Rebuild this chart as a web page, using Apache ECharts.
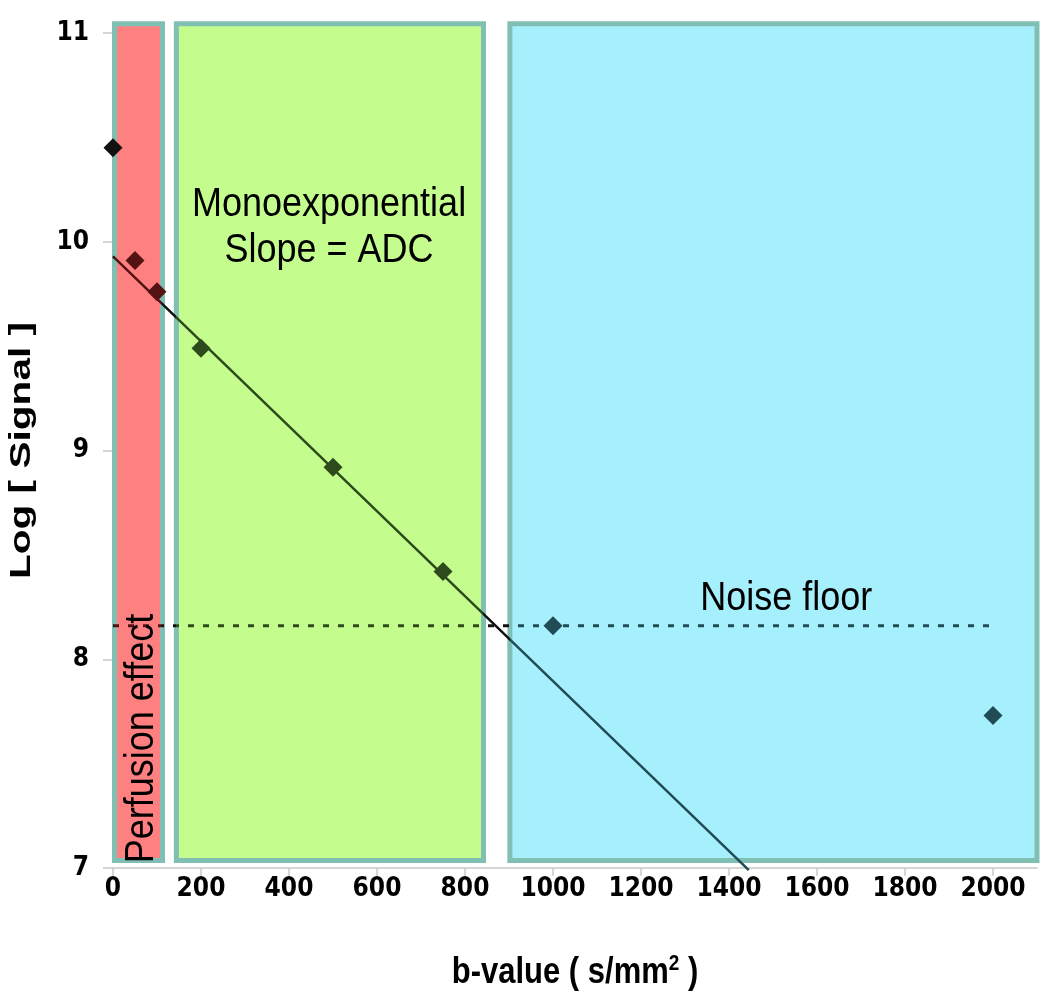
<!DOCTYPE html>
<html>
<head>
<meta charset="utf-8">
<script src="https://cdn.jsdelivr.net/npm/echarts@6/dist/echarts.min.js"></script>
<style>
html,body{margin:0;padding:0;background:#fff;}
#c{width:1050px;height:999px;}
</style>
</head>
<body>
<div id="c"></div>
<script>
// ---- data ----
var bValues = [0, 50, 100, 200, 500, 750, 1000, 2000];
var logSignal = [10.45, 9.91, 9.76, 9.49, 8.92, 8.42, 8.16, 7.73];
var fitLine = [[0, 9.93], [1445, 6.99]];
var noiseFloorLevel = 8.16;
var noiseFloorRange = [0, 2000];
var xTicks = [0, 200, 400, 600, 800, 1000, 1200, 1400, 1600, 1800, 2000];
var yTicks = [7, 8, 9, 10, 11];
var regionNames = ['Perfusion effect', 'Monoexponential', 'Noise floor'];
var regionStart = [3.4, 144, 902];
var regionEnd = [112.5, 842, 2107];
var regionTop = 11.045, regionBottom = 7.036;
var annotations = [
  {text: 'Monoexponential\nSlope = ADC', x: 491, y: 10.07, rotate: 0},
  {text: 'Noise floor', x: 1530, y: 8.29, rotate: 0},
  {text: 'Perfusion effect', x: 64, y: 7.62, rotate: Math.PI / 2}
];
var xAxisTitle = 'b-value ( s/mm{sup|2} )';
var yAxisTitle = 'Log [ Signal ]';

// ---- styles ----
var fills = ['#ff8080', '#c4fd8d', '#a6effc'];
var darks = ['#551212', '#2c4a1b', '#214c56'];
var outsideDark = '#111111';
var border = '#80bfb3';
var font = '"Liberation Sans", Arial, sans-serif';
var narrow = '"Liberation Sans Narrow", "DejaVu Sans Condensed", "Liberation Sans", Arial, sans-serif';

var pieces = [];
pieces.push({lt: regionStart[0], color: outsideDark});
for (var i = 0; i < regionStart.length; i++) {
  pieces.push({gte: regionStart[i], lt: regionEnd[i], color: darks[i]});
  if (i < regionStart.length - 1) pieces.push({gte: regionEnd[i], lt: regionStart[i + 1], color: outsideDark});
}
pieces.push({gte: regionEnd[regionEnd.length - 1], color: outsideDark});

var areas = regionNames.map(function (n, i) {
  return [
    {name: n, xAxis: regionStart[i], yAxis: regionBottom, itemStyle: {color: fills[i], borderColor: border, borderWidth: 5, opacity: 1}},
    {xAxis: regionEnd[i], yAxis: regionTop}
  ];
});

var yMax = 11.06;
var chart = echarts.init(document.getElementById('c'), null, {renderer: 'canvas'});
chart.setOption({
  animation: false,
  backgroundColor: '#ffffff',
  grid: {left: 113, top: 20.5, right: 13, bottom: 131, outerBoundsMode: 'none', containLabel: false},
  visualMap: {
    show: false, type: 'piecewise', dimension: 0, seriesIndex: [1, 2, 3], pieces: pieces
  },
  xAxis: {
    type: 'value', min: 0, max: 2100, interval: 200,
    axisLine: {show: true, lineStyle: {color: '#c8c8c8', width: 1.5}},
    axisTick: {show: true, length: 8, lineStyle: {color: '#c8c8c8', width: 1.5}, customValues: xTicks},
    axisLabel: {customValues: xTicks, formatter: function (v) { return String(v); },
      color: '#000', fontFamily: narrow, fontWeight: 'bold', fontSize: 26, margin: 8},
    splitLine: {show: false}
  },
  yAxis: {
    type: 'value', min: 7, max: yMax, interval: 1,
    axisLine: {show: false},
    axisTick: {show: true, length: 10, lineStyle: {color: '#c8c8c8', width: 1.5}, customValues: yTicks},
    axisLabel: {customValues: yTicks, color: '#000', fontFamily: narrow, fontWeight: 'bold', fontSize: 26, margin: 24},
    splitLine: {show: false}
  },
  series: [
    {
      type: 'line', data: [], z: 1, silent: true, clip: false,
      markArea: {silent: true, label: {show: false}, data: areas}
    },
    {
      type: 'line', data: fitLine, symbol: 'none', z: 3, clip: false,
      lineStyle: {width: 2.5}
    },
    {
      type: 'line', data: noiseFloorRange.map(function (x) { return [x, noiseFloorLevel]; }),
      symbol: 'none', z: 3, lineStyle: {width: 3, type: [6, 9]}
    },
    {
      type: 'scatter', symbol: 'diamond', symbolSize: 19, z: 4, itemStyle: {opacity: 1},
      data: bValues.map(function (b, i) { return [b, logSignal[i]]; })
    }
  ]
});

var graphics = annotations.map(function (a) {
  var p = chart.convertToPixel({gridIndex: 0}, [a.x, a.y]);
  return {
    type: 'text', x: p[0], y: p[1], rotation: a.rotate, scaleY: 1.15, z: 10,
    style: {text: a.text, fill: '#000', font: '36px ' + font, textAlign: 'center', textVerticalAlign: 'middle', lineHeight: 40}
  };
});
var pTop = chart.convertToPixel({gridIndex: 0}, [0, 11]);
var pBot = chart.convertToPixel({gridIndex: 0}, [2100, 7]);
graphics.push({
  type: 'text', x: (pTop[0] + pBot[0]) / 2, y: pBot[1] + 105, scaleY: 1.2, z: 10,
  style: {text: xAxisTitle, fill: '#000', font: 'bold 31px ' + font, textAlign: 'center', textVerticalAlign: 'middle',
    rich: {sup: {font: 'bold 19px ' + font, fill: '#000', verticalAlign: 'top', padding: [0, 0, 16, 0]}}}
});
graphics.push({
  type: 'text', x: pTop[0] - 91, y: (pTop[1] + pBot[1]) / 2, rotation: Math.PI / 2, scaleX: 1.4, z: 10,
  style: {text: yAxisTitle, fill: '#000', font: 'bold 29px ' + font, textAlign: 'center', textVerticalAlign: 'middle'}
});
chart.setOption({graphic: graphics});
</script>
</body>
</html>
